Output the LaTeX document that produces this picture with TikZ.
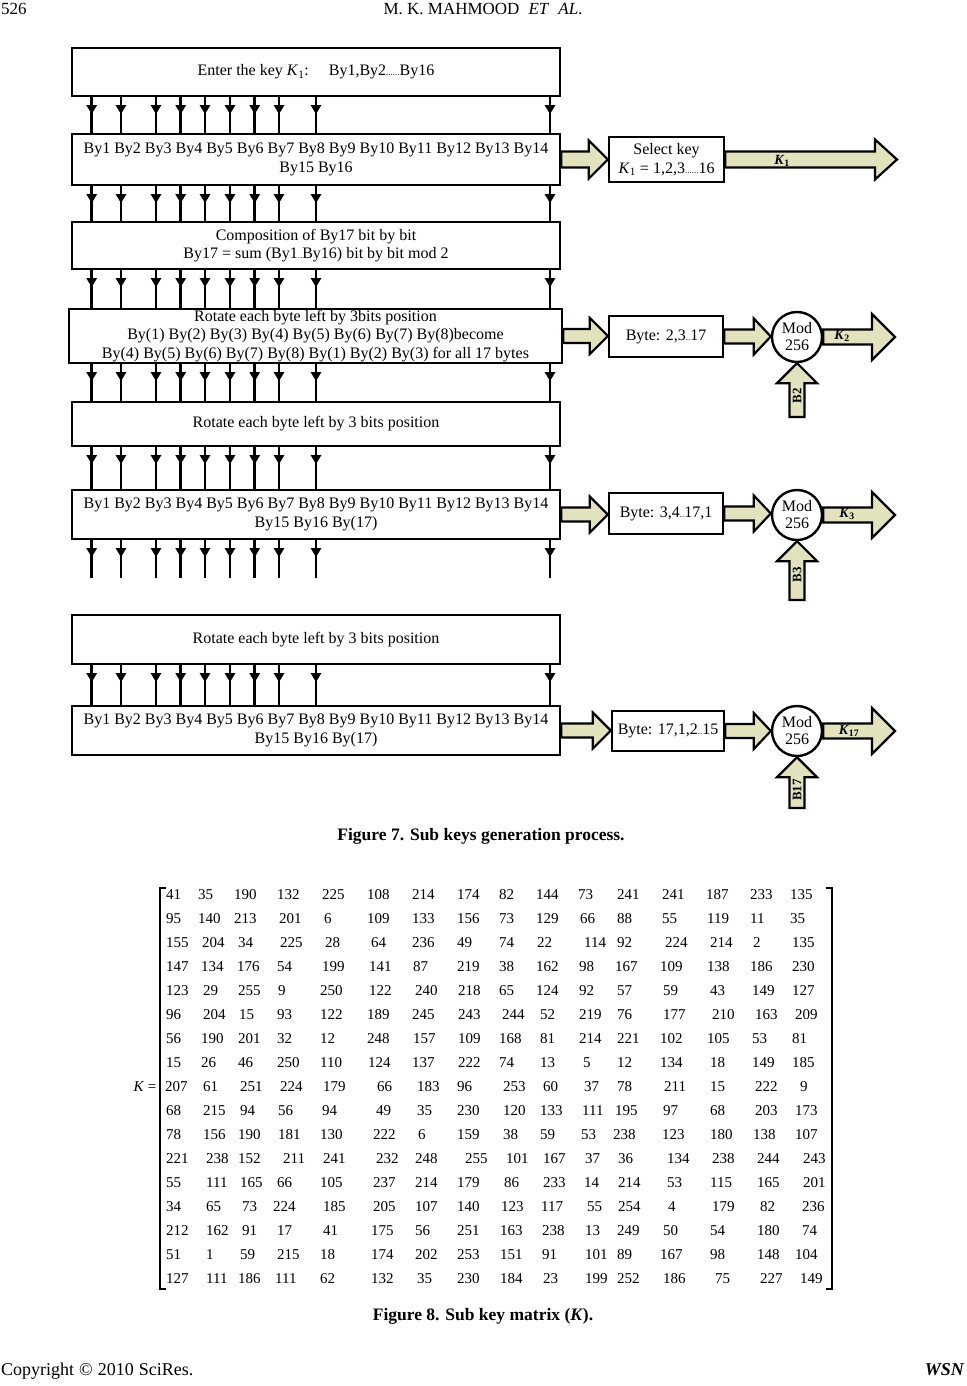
\documentclass[tikz,border=0pt]{standalone}
\usepackage{fontspec}
\usepackage{graphicx}
\setmainfont{Liberation Serif}
\usetikzlibrary{arrows.meta,calc}
\definecolor{khaki}{RGB}{226,226,188}
\newcommand\sdots[1]{{\fontsize{9}{9}\selectfont #1}}
\newcommand\fatR[5]{\path[fat] let \p1=(#1), \p2=(#2) in (\x1,\y1+#3) -- (\x2-#5,\y1+#3) -- (\x2-#5,\y1+#4) -- (\x2,\y1) -- (\x2-#5,\y1-#4) -- (\x2-#5,\y1-#3) -- (\x1,\y1-#3) -- cycle;}
\newcommand\fatU[5]{\path[fat] let \p1=(#1), \p2=(#2) in (\x2+#3,\y1) -- (\x2+#3,\y2-#5) -- (\x2+#4,\y2-#5) -- (\x2,\y2) -- (\x2-#4,\y2-#5) -- (\x2-#3,\y2-#5) -- (\x2-#3,\y1) -- cycle;}
\tikzset{
 box/.style={draw, line width=2.4pt, rectangle, inner sep=0pt, align=center, font=\fontsize{16}{18.5}\selectfont},
 conn/.style={line width=2.6pt},
 tipconn/.style={line width=2.6pt, -{Triangle[width=10pt,length=9pt]}},
 fat/.style={fill=khaki, draw=black, line width=2.2pt, line join=miter},
 modc/.style={circle, draw, line width=2.4pt, minimum size=50pt, inner sep=0pt, align=center, font=\fontsize{16}{17}\selectfont},
 klabel/.style={font=\fontsize{14}{14}\selectfont\bfseries, inner sep=0pt},
 blabel/.style={font=\fontsize{13}{13}\selectfont\bfseries, inner sep=0pt, rotate=90},
 num/.style={anchor=west, inner sep=0pt, font=\fontsize{15}{15}\selectfont},
 figcap/.style={font=\fontsize{17.5}{17.5}\selectfont\bfseries, inner sep=0pt},
 hdr/.style={font=\fontsize{17}{17}\selectfont, inner sep=0pt},
}
\begin{document}
\begin{tikzpicture}[x=1pt,y=-1pt]
\useasboundingbox[fill=white] (0,0) rectangle (966,1386);
% header / footer
\node[hdr, anchor=base west] (pg) at (1,15) {526};
\node[hdr, anchor=base] (ttl) at (483,15) {M. K. MAHMOOD\hspace{9pt}\textit{ET}\hspace{9pt}\textit{AL}.};
\node[hdr, anchor=base west, font=\fontsize{18}{18}\selectfont] (cpy) at (1,1375) {Copyright\hspace{5pt}©\hspace{5pt}2010\hspace{5pt}SciRes.};
\node[hdr, anchor=base east, font=\fontsize{18}{18}\selectfont] (wsn) at (964,1375) {\bfseries\itshape WSN};
% main boxes
\node[box, minimum width=488pt, minimum height=48pt] (b1) at (316,72) {Enter the key \textit{K}\textsubscript{1}:\hspace{20pt}By1,By2\sdots{......}By16};
\node[box, minimum width=488pt, minimum height=51pt] (b2) at (316,159.5) {By1 By2 By3 By4 By5 By6 By7 By8 By9 By10 By11 By12 By13 By14\\By15 By16};
\node[box, minimum width=488pt, minimum height=47pt] (b3) at (316,245.5) {Composition of By17 bit by bit\\By17 = sum (By1\sdots{..}By16) bit by bit mod 2};
\node[box, minimum width=493pt, minimum height=54pt] (b4) at (315.5,336) {Rotate each byte left by 3bits position\\By(1) By(2) By(3) By(4) By(5) By(6) By(7) By(8)become\\By(4) By(5) By(6) By(7) By(8) By(1) By(2) By(3) for all 17 bytes};
\node[box, minimum width=488pt, minimum height=44pt] (b5) at (316,424) {Rotate each byte left by 3 bits position};
\node[box, minimum width=488pt, minimum height=49pt] (b6) at (316,514.5) {By1 By2 By3 By4 By5 By6 By7 By8 By9 By10 By11 By12 By13 By14\\By15 By16 By(17)};
\node[box, minimum width=488pt, minimum height=49pt] (b7) at (316,639.5) {Rotate each byte left by 3 bits position};
\node[box, minimum width=488pt, minimum height=49pt] (b8) at (316,730.5) {By1 By2 By3 By4 By5 By6 By7 By8 By9 By10 By11 By12 By13 By14\\By15 By16 By(17)};
% thin connectors
\foreach \X [count=\i] in {91.7,121,156,180.7,205,230,254.7,279,316,550} {
  \foreach \A/\B in {b1/b2,b2/b3,b3/b4,b4/b5,b5/b6,b7/b8} {
    \draw[conn] (\A.south -| \X,0) -- (\B.north -| \X,0);
    \draw[tipconn] (\A.south -| \X,0) -- ++(0,17);
  }
  \coordinate (d\i) at (\X,578);
  \draw[conn] (b6.south -| \X,0) -- (d\i);
  \draw[tipconn] (b6.south -| \X,0) -- ++(0,17);
}
% right side
\node[box, minimum width=115pt, minimum height=45pt, font=\fontsize{16}{19}\selectfont] (sel) at (666.5,159.5) {Select key\\\textit{K}\textsubscript{1} = 1,2,3\sdots{......}16};
\node[box, minimum width=114pt, minimum height=41pt] (y2) at (666,336.5) {Byte: 2,3\sdots{..}17};
\node[box, minimum width=114pt, minimum height=41pt] (y3) at (666,513.5) {Byte: 3,4\sdots{..}17,1};
\node[box, minimum width=112pt, minimum height=40pt] (y17) at (668,731) {Byte: 17,1,2\sdots{..}15};
\node[modc] (c2) at (797,337) {Mod\\256};
\node[modc] (c3) at (797,515) {Mod\\256};
\node[modc] (c17) at (797,731) {Mod\\256};
\coordinate (k1t) at (897,160);
\coordinate (k2t) at (895,337);
\coordinate (k3t) at (895,515);
\coordinate (k17t) at (895,731);
\coordinate (b2b) at (797,417);
\coordinate (b3b) at (797,600);
\coordinate (b17b) at (797,808);
\fatR{b2.east}{sel.west}{8pt}{19pt}{19pt}
\fatR{sel.east}{k1t}{8pt}{20pt}{22pt}
\fatR{b4.east}{y2.west}{7pt}{18pt}{18pt}
\fatR{y2.east}{c2.west}{7pt}{18pt}{17pt}
\fatR{c2.east}{k2t}{7.5pt}{23pt}{23pt}
\fatR{b6.east}{y3.west}{7pt}{18pt}{18pt}
\fatR{y3.east}{c3.west}{7pt}{18pt}{17pt}
\fatR{c3.east}{k3t}{7.5pt}{23pt}{23pt}
\fatR{b8.east}{y17.west}{7pt}{18pt}{18pt}
\fatR{y17.east}{c17.west}{7pt}{18pt}{17pt}
\fatR{c17.east}{k17t}{7.5pt}{23pt}{23pt}
\fatU{b2b}{c2.south}{7.5pt}{20pt}{20pt}
\fatU{b3b}{c3.south}{7.5pt}{20pt}{20pt}
\fatU{b17b}{c17.south}{7.5pt}{20pt}{20pt}
\node[klabel] (lk1) at (782,161) {\textit{K}\textsubscript{1}};
\node[klabel] (lk2) at (842,336) {\textit{K}\textsubscript{2}};
\node[klabel] (lk3) at (847,514) {\textit{K}\textsubscript{3}};
\node[klabel] (lk17) at (849,731) {\textit{K}\textsubscript{17}};
\node[blabel] (lb2) at (797,396) {B2};
\node[blabel] (lb3) at (797,575) {B3};
\node[blabel] (lb17) at (797,790) {B17};
% captions
\node[figcap] (cap7) at (481,836) {Figure 7. Sub keys generation process.};
\node[figcap] (cap8) at (483,1316) {Figure 8. Sub key matrix (\textit{K}).};
% matrix
\node[num, anchor=center, font=\fontsize{15}{15}\selectfont] (keq) at (145,1087) {\textit{K} =};
\draw[line width=1.1pt] (166,888) -- (160,888) -- (160,1289) -- (166,1289);
\draw[line width=1.1pt] (826,888) -- (832,888) -- (832,1289) -- (826,1289);
\foreach \x/\v in {166/41,198/35,234/190,277/132,322/225,367/108,412/214,457/174,499/82,536/144,578/73,617/241,662/241,706/187,750/233,790/135} \node[num] (m1-\x) at (\x,895) {\v};
\foreach \x/\v in {166/95,198/140,234/213,279/201,324/6,367/109,412/133,457/156,499/73,536/129,580/66,617/88,662/55,707/119,750/11,790/35} \node[num] (m2-\x) at (\x,919) {\v};
\foreach \x/\v in {166/155,202/204,238/34,280/225,325/28,371/64,412/236,457/49,499/74,537/22,584/114,617/92,665/224,710/214,753/2,792/135} \node[num] (m3-\x) at (\x,943) {\v};
\foreach \x/\v in {166/147,201/134,237/176,277/54,322/199,369/141,413/87,457/219,499/38,536/162,579/98,615/167,660/109,707/138,750/186,792/230} \node[num] (m4-\x) at (\x,967) {\v};
\foreach \x/\v in {166/123,203/29,238/255,278/9,320/250,369/122,415/240,458/218,499/65,536/124,579/92,617/57,663/59,710/43,752/149,792/127} \node[num] (m5-\x) at (\x,991) {\v};
\foreach \x/\v in {166/96,203/204,239/15,277/93,320/122,367/189,412/245,458/243,502/244,540/52,579/219,617/76,663/177,712/210,755/163,795/209} \node[num] (m6-\x) at (\x,1015) {\v};
\foreach \x/\v in {166/56,201/190,238/201,277/32,320/12,367/248,413/157,458/109,499/168,540/81,579/214,617/221,660/102,707/105,752/53,792/81} \node[num] (m7-\x) at (\x,1039) {\v};
\foreach \x/\v in {166/15,201/26,238/46,277/250,320/110,368/124,412/137,458/222,499/74,540/13,583/5,617/12,660/134,710/18,752/149,792/185} \node[num] (m8-\x) at (\x,1063) {\v};
\foreach \x/\v in {165/207,203/61,240/251,280/224,323/179,377/66,417/183,457/96,503/253,543/60,584/37,617/78,664/211,710/15,755/222,800/9} \node[num] (m9-\x) at (\x,1087) {\v};
\foreach \x/\v in {166/68,203/215,240/94,278/56,322/94,376/49,417/35,457/230,503/120,540/133,582/111,615/195,663/97,710/68,755/203,795/173} \node[num] (m10-\x) at (\x,1111) {\v};
\foreach \x/\v in {166/78,203/156,238/190,278/181,320/130,373/222,418/6,457/159,503/38,540/59,581/53,613/238,662/123,710/180,753/138,795/107} \node[num] (m11-\x) at (\x,1135) {\v};
\foreach \x/\v in {166/221,206/238,238/152,283/211,323/241,376/232,415/248,465/255,506/101,543/167,585/37,618/36,667/134,712/238,757/244,803/243} \node[num] (m12-\x) at (\x,1159) {\v};
\foreach \x/\v in {166/55,206/111,240/165,277/66,320/105,373/237,415/214,457/179,504/86,543/233,584/14,618/214,667/53,710/115,757/165,803/201} \node[num] (m13-\x) at (\x,1183) {\v};
\foreach \x/\v in {166/34,206/65,242/73,273/224,323/185,373/205,415/107,457/140,501/123,541/117,587/55,618/254,668/4,712/179,760/82,802/236} \node[num] (m14-\x) at (\x,1207) {\v};
\foreach \x/\v in {166/212,206/162,242/91,277/17,323/41,371/175,415/56,457/251,500/163,542/238,585/13,617/249,663/50,710/54,757/180,802/74} \node[num] (m15-\x) at (\x,1231) {\v};
\foreach \x/\v in {166/51,206/1,240/59,277/215,320/18,371/174,415/202,457/253,500/151,542/91,585/101,617/89,660/167,710/98,757/148,795/104} \node[num] (m16-\x) at (\x,1255) {\v};
\foreach \x/\v in {166/127,206/111,238/186,275/111,320/62,371/132,417/35,457/230,500/184,543/23,585/199,617/252,663/186,715/75,760/227,800/149} \node[num] (m17-\x) at (\x,1279) {\v};
\end{tikzpicture}
\end{document}
